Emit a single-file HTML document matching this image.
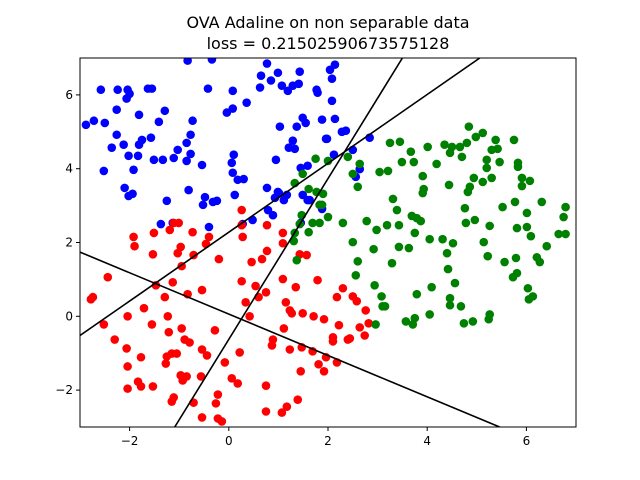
<!DOCTYPE html>
<html><head><meta charset="utf-8"><style>
html,body{margin:0;padding:0;background:#fff;}
svg{display:block;font-family:"DejaVu Sans","Liberation Sans",sans-serif;}
</style></head><body>
<svg id="chart" width="640" height="480" viewBox="0 0 640 480">
<text x="328" y="28" text-anchor="middle" font-size="16">OVA Adaline on non separable data</text>
<text x="328" y="49" text-anchor="middle" font-size="16">loss = 0.21502590673575128</text>
<defs><clipPath id="clip"><rect x="80" y="58" width="496" height="369"/></clipPath></defs>
<g id="points" clip-path="url(#clip)"></g>
<g id="lines" clip-path="url(#clip)"></g>
<rect x="80" y="58" width="496" height="369" fill="none" stroke="#000" stroke-width="1"/>
<g id="ticks"></g>
</svg>
<script>
const xDomain = [-3, 7];
const yDomain = [-3, 7];
const xTicks = [-2, 0, 2, 4, 6];
const yTicks = [-2, 0, 2, 4, 6];
const blueX = [-0.83,-0.34,0.77,0.65,0.99,0.85,1.43,2.04,2.14,2.08,-2.58,-2.24,-2.04,-2.00,-2.06,-1.63,-1.55,-0.42,0.08,0.63,1.07,1.19,1.29,1.41,1.77,1.79,0.36,2.08,0.08,-0.04,-2.26,-1.81,-1.29,-2.88,-2.72,-2.50,-1.41,-0.73,1.03,1.37,1.49,1.55,1.88,2.14,2.28,2.36,-2.26,-1.57,-0.77,-1.75,-1.81,-2.12,-2.36,-0.85,-1.03,1.96,1.29,1.21,1.33,-2.02,-1.83,-1.51,-1.33,-1.11,-0.77,-0.85,0.10,0.06,-0.54,0.95,2.12,-2.52,-1.92,0.08,0.18,0.30,1.45,1.59,-2.10,-2.02,-1.94,-1.25,-0.81,-0.48,-0.52,-0.32,-0.24,0.12,0.77,1.01,0.93,1.11,1.49,1.59,1.88,0.79,0.89,0.48,-1.37,-1.13,-0.40,0.28,1.45,2.84,2.50,2.64,2.56,0.99,1.17,1.63,1.98];
const blueY = [6.93,6.96,6.85,6.52,6.60,6.39,6.63,6.68,6.82,6.44,6.14,6.14,6.14,6.03,5.90,6.17,6.17,6.17,6.11,6.20,6.25,6.11,6.25,6.30,6.14,6.06,5.79,5.84,5.63,5.52,5.60,5.46,5.57,5.19,5.30,5.24,5.27,5.30,5.14,5.14,5.38,5.24,5.33,5.35,5.00,5.03,4.92,4.84,4.92,4.78,4.65,4.65,4.57,4.70,4.51,4.81,4.76,4.57,4.54,4.35,4.35,4.24,4.24,4.29,4.40,4.21,4.38,4.16,4.10,4.24,4.38,3.94,3.97,3.89,3.70,3.72,4.02,4.08,3.48,3.26,3.32,3.13,3.42,3.23,3.02,3.10,3.13,3.29,3.48,3.34,3.21,3.15,3.29,3.15,2.91,2.88,2.74,2.61,2.50,2.53,2.42,2.50,2.53,4.84,4.51,3.99,3.78,3.37,3.29,3.15,4.81];
const redX = [0.26,-1.11,-1.01,0.26,0.77,-1.92,-1.51,-1.19,-0.73,-0.40,0.28,1.09,-1.90,-1.53,-1.03,-0.97,-0.71,-0.46,-0.20,0.46,0.67,0.77,1.09,1.43,1.57,-0.95,-2.44,-1.47,-1.13,-0.54,0.26,0.54,0.75,0.60,1.09,1.35,1.79,2.30,2.18,-2.74,-2.78,-1.29,-0.83,-1.71,-2.04,-1.23,0.34,1.15,1.23,1.27,1.49,1.71,1.92,0.42,-2.52,-1.55,-0.95,-1.21,-0.28,1.11,2.22,-2.30,-0.89,-0.79,-2.06,0.89,0.87,1.23,1.47,1.69,2.10,2.10,2.40,-1.77,-1.25,-1.15,-1.05,-1.27,-0.54,-0.44,0.22,-0.08,1.96,1.81,1.92,2.18,-2.04,1.45,-0.97,-0.85,-0.93,-0.56,0.06,0.18,-1.83,-1.77,-1.53,-2.04,0.75,-0.22,-0.26,-1.11,-1.15,-0.71,1.39,1.17,1.07,0.75,-0.54,-0.22,-0.14,2.50,2.58,2.76,2.82,2.64,2.74,2.44];
const redY = [2.88,2.53,2.53,2.47,2.47,2.15,2.26,2.34,2.28,2.15,2.15,2.26,1.90,1.68,1.71,1.88,1.66,1.96,1.55,1.47,1.55,1.77,1.98,1.68,1.66,1.36,1.06,0.84,0.92,0.71,0.95,0.82,0.65,0.52,1.01,0.79,0.98,0.76,0.52,0.52,0.46,0.52,0.60,0.22,0.00,0.00,0.38,0.38,0.16,0.08,0.08,0.00,-0.08,0.00,-0.22,-0.22,-0.33,-0.43,-0.38,-0.33,-0.24,-0.63,-0.63,-0.71,-0.87,-0.63,-0.79,-0.90,-0.84,-0.95,-0.57,-0.68,-0.63,-1.11,-1.09,-1.01,-1.01,-1.28,-0.90,-1.06,-0.98,-1.25,-1.11,-1.30,-1.49,-1.25,-1.36,-1.49,-1.60,-1.63,-1.74,-1.63,-1.68,-1.82,-1.77,-1.90,-1.90,-1.96,-1.88,-2.12,-2.36,-2.20,-2.31,-2.34,-2.26,-2.45,-2.61,-2.58,-2.74,-2.77,-2.85,0.54,0.41,0.16,-0.19,-0.30,-0.52,-0.60];
const greenX = [4.84,4.98,5.12,5.38,5.75,3.25,3.45,4.01,4.35,4.50,4.66,4.80,4.46,4.70,5.30,5.42,3.67,3.49,3.73,4.19,5.20,5.46,5.83,5.83,5.20,3.04,3.21,3.91,4.94,5.30,5.91,6.07,5.91,5.12,4.86,4.82,4.44,3.93,3.91,1.75,2.00,2.40,2.64,2.50,2.60,1.33,1.49,1.61,1.77,1.90,3.31,3.39,4.76,5.52,5.77,6.31,6.79,6.01,6.75,1.88,2.00,1.47,1.43,1.69,1.83,1.61,2.30,2.78,3.19,3.43,3.69,3.79,3.87,2.98,3.75,4.05,4.31,4.52,4.78,4.96,5.26,5.81,6.01,6.09,6.65,6.79,2.50,2.92,3.43,3.63,4.40,5.14,5.22,5.79,6.21,6.27,6.41,5.56,1.37,2.60,3.29,4.42,5.81,5.73,2.56,2.94,3.08,3.10,3.15,3.79,4.09,4.56,4.46,4.46,4.68,6.03,6.13,6.05,5.26,5.24,4.05,3.57,3.75,3.71,4.74,4.92,2.96,1.33,1.31,1.83];
const greenY = [5.14,4.86,4.97,4.78,4.78,4.70,4.73,4.59,4.65,4.59,4.59,4.70,4.43,4.32,4.51,4.54,4.46,4.18,4.18,4.13,4.24,4.18,4.16,4.05,4.02,3.91,3.94,3.80,3.75,3.75,3.75,3.67,3.53,3.64,3.51,3.37,3.56,3.45,3.34,4.27,4.21,4.32,4.13,3.86,3.51,3.61,3.86,3.45,3.37,3.32,3.18,2.88,2.93,2.96,3.10,3.10,2.96,2.80,2.69,3.02,2.69,2.74,2.50,2.53,2.53,2.28,2.53,2.58,2.47,2.47,2.72,2.66,2.58,2.34,2.26,2.09,2.09,1.98,2.53,2.61,2.45,2.39,2.42,2.17,2.23,2.23,2.01,1.82,1.88,1.85,1.71,2.01,1.63,1.58,1.60,1.47,1.90,1.47,1.52,1.49,1.44,1.28,1.17,1.06,1.11,0.84,0.54,0.27,0.27,0.60,0.79,0.90,0.49,0.30,0.27,0.76,0.54,0.46,0.05,-0.08,0.05,-0.14,-0.05,-0.22,-0.19,-0.14,-0.22,2.26,2.04,3.02];
const lineStartX = [-3, -3, -1.09];
const lineStartY = [1.74, -0.52, -3];
const lineEndX = [5.46, 5.06, 3.5];
const lineEndY = [-3, 7, 7];

const L=80,R=576,T=58,B=427;
const sx=v=>L+(v-xDomain[0])/(xDomain[1]-xDomain[0])*(R-L);
const sy=v=>B-(v-yDomain[0])/(yDomain[1]-yDomain[0])*(B-T);
const NS="http://www.w3.org/2000/svg";
const pg=document.getElementById('points');
function drawSeries(xs,ys,color,name){
  for(let i=0;i<xs.length;i++){
    const c=document.createElementNS(NS,'circle');
    c.setAttribute('cx',sx(xs[i]));c.setAttribute('cy',sy(ys[i]));
    c.setAttribute('r',4.3);c.setAttribute('fill',color);
    
    
    pg.appendChild(c);
  }
}
drawSeries(blueX,blueY,'#0000ff','blue-class-point');
drawSeries(redX,redY,'#ff0000','red-class-point');
drawSeries(greenX,greenY,'#008000','green-class-point');
const lg=document.getElementById('lines');
for(let i=0;i<lineStartX.length;i++){
  const l=document.createElementNS(NS,'line');
  l.setAttribute('x1',sx(lineStartX[i]));l.setAttribute('y1',sy(lineStartY[i]));
  l.setAttribute('x2',sx(lineEndX[i]));l.setAttribute('y2',sy(lineEndY[i]));
  l.setAttribute('stroke','#000');l.setAttribute('stroke-width','1.6');
  
  
  lg.appendChild(l);
}
const tg=document.getElementById('ticks');
xTicks.forEach(v=>{
  const t=document.createElementNS(NS,'line');
  t.setAttribute('x1',sx(v));t.setAttribute('x2',sx(v));t.setAttribute('y1',B);t.setAttribute('y2',B+4);
  t.setAttribute('stroke','#000');
  
  
  tg.appendChild(t);
  const tx=document.createElementNS(NS,'text');
  tx.setAttribute('x',sx(v));tx.setAttribute('y',B+18);tx.setAttribute('text-anchor','middle');tx.setAttribute('font-size','12');
  tx.textContent=v<0?'\u2212'+Math.abs(v):String(v);
  
  
  tg.appendChild(tx);
});
yTicks.forEach(v=>{
  const t=document.createElementNS(NS,'line');
  t.setAttribute('x1',L-4);t.setAttribute('x2',L);t.setAttribute('y1',sy(v));t.setAttribute('y2',sy(v));
  t.setAttribute('stroke','#000');
  
  
  tg.appendChild(t);
  const tx=document.createElementNS(NS,'text');
  tx.setAttribute('x',L-7);tx.setAttribute('y',sy(v)+4);tx.setAttribute('text-anchor','end');tx.setAttribute('font-size','12');
  tx.textContent=v<0?'\u2212'+Math.abs(v):String(v);
  
  
  tg.appendChild(tx);
});
</script>
</body></html>
